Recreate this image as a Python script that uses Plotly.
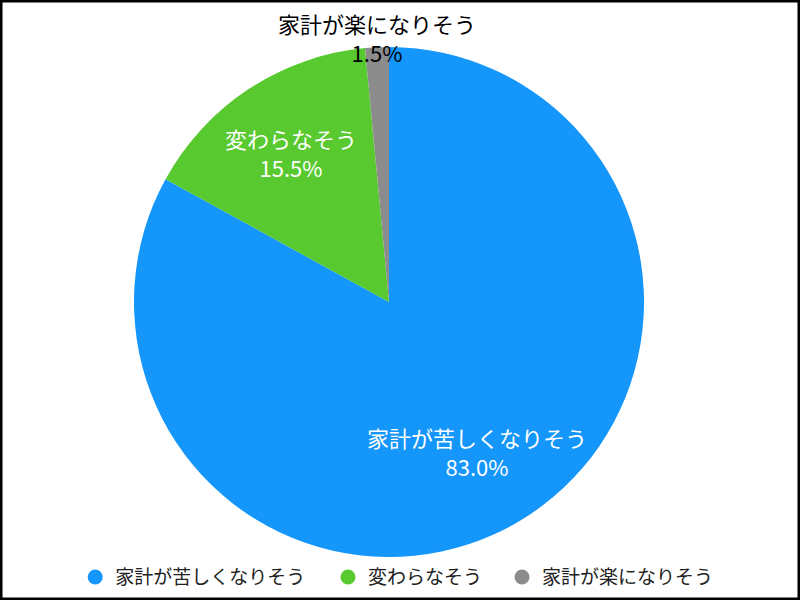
import math
import plotly.graph_objects as go

labels = ["家計が苦しくなりそう", "変わらなそう", "家計が楽になりそう"]
values = [83.0, 15.5, 1.5]
colors = ["#1496fa", "#58c92e", "#8c8c8c"]
text_colors = ["white", "white", "black"]
label_radius = [0.68, 0.70, 1.04]   # label distance along slice bisector, in pie radii
legend_x = [0.094, 0.41, 0.6275]

FONT = "Noto Sans CJK JP"
W, H = 800, 600
dom_x = [0.1675, 0.805]
dom_y = [0.0717, 0.9217]

fig = go.Figure()
fig.add_trace(go.Pie(
    labels=labels,
    values=values,
    sort=False,
    direction="clockwise",
    rotation=0,
    marker=dict(colors=colors, line=dict(width=0)),
    textinfo="none",
    showlegend=False,
    hoverinfo="label+percent",
    domain=dict(x=dom_x, y=dom_y),
))

# slice labels placed along each slice's bisector
cx = (dom_x[0] + dom_x[1]) / 2 * W
cy = (dom_y[0] + dom_y[1]) / 2 * H
R = min((dom_x[1] - dom_x[0]) * W, (dom_y[1] - dom_y[0]) * H) / 2
total = sum(values)
cum = 0.0
annotations = []
for lab, v, tc, lr in zip(labels, values, text_colors, label_radius):
    mid = (cum + v / 2) / total * 2 * math.pi
    cum += v
    px = cx + lr * R * math.sin(mid)
    py = cy + lr * R * math.cos(mid)
    annotations.append(dict(
        x=px / W, y=py / H, xref="paper", yref="paper",
        text=f"{lab}<br>{v / total * 100:.1f}%", showarrow=False,
        xanchor="center", yanchor="middle", align="center",
        font=dict(family=FONT, size=22, color=tc),
    ))

legend_names = ["legend", "legend2", "legend3"]
for lab, col, lg in zip(labels, colors, legend_names):
    fig.add_trace(go.Scatter(
        x=[None], y=[None], mode="markers", name=lab,
        marker=dict(symbol="circle", size=15, color=col),
        showlegend=True, legend=lg,
    ))

leg_common = dict(orientation="h", xanchor="left", y=0.038, yanchor="middle",
                  font=dict(family=FONT, size=19, color="#222"),
                  bgcolor="rgba(0,0,0,0)")

fig.update_layout(
    width=W, height=H,
    margin=dict(l=0, r=0, t=0, b=0),
    paper_bgcolor="white", plot_bgcolor="white",
    font=dict(family=FONT, size=16, color="#222"),
    xaxis=dict(visible=False), yaxis=dict(visible=False),
    legend=dict(x=legend_x[0], **leg_common),
    legend2=dict(x=legend_x[1], **leg_common),
    legend3=dict(x=legend_x[2], **leg_common),
    annotations=annotations,
    shapes=[dict(type="rect", xref="paper", yref="paper", x0=0, y0=0, x1=1, y1=1,
                 line=dict(color="black", width=5), fillcolor="rgba(0,0,0,0)")],
)

fig.write_html("out.html", config={"displayModeBar": False},
               post_script="document.body.style.margin='0';document.body.style.overflow='hidden';")
